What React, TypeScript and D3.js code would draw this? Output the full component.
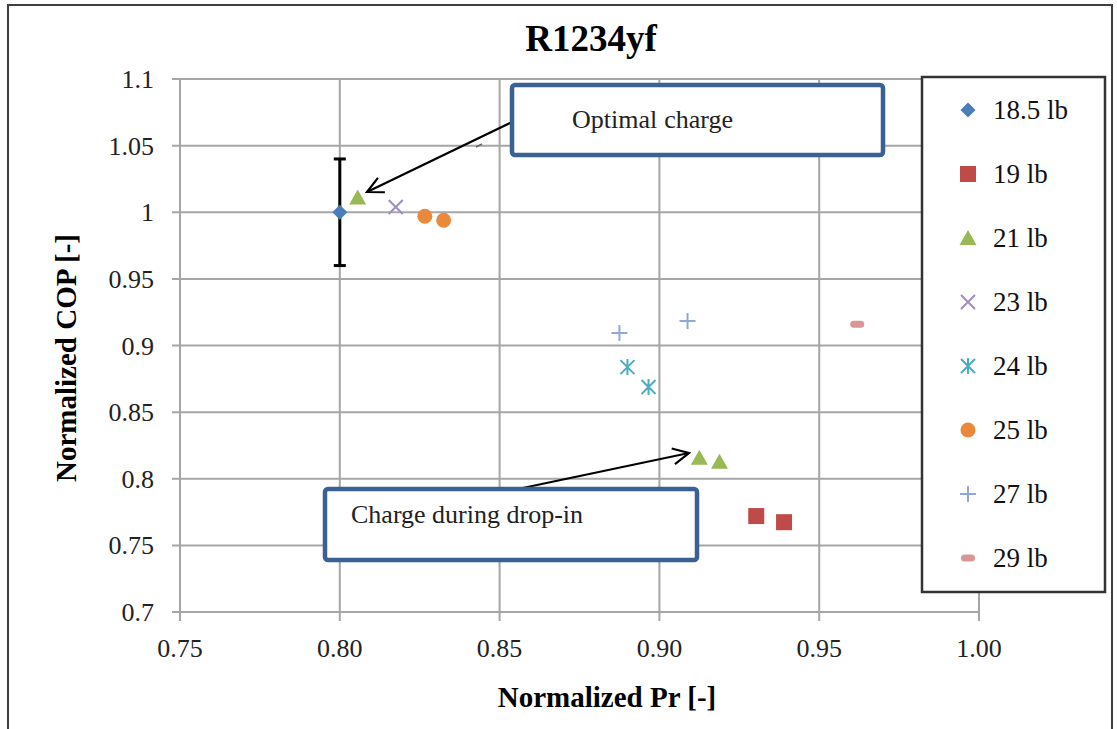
import React from "react";
import * as d3 from "d3";

const xTicks = [0.75, 0.8, 0.85, 0.9, 0.95, 1.0];
const yTicks = [0.7, 0.75, 0.8, 0.85, 0.9, 0.95, 1.0, 1.05, 1.1];
const yTickLabels = ["0.7", "0.75", "0.8", "0.85", "0.9", "0.95", "1", "1.05", "1.1"];

const seriesNames = ["18.5 lb", "19 lb", "21 lb", "23 lb", "24 lb", "25 lb", "27 lb", "29 lb"];
const seriesShapes = ["diamond", "square", "triangle", "x", "asterisk", "circle", "plus", "dash"];
const seriesColors = ["#4a7ebb", "#be4b48", "#98b954", "#a08cc0", "#4bacc6", "#e8893c", "#8fa8d8", "#d99694"];

const s185 = [[0.8, 1.0]];
const s19 = [[0.9303, 0.772], [0.939, 0.7674]];
const s21 = [[0.8056, 1.011], [0.9125, 0.8158], [0.9188, 0.8128]];
const s23 = [[0.8175, 1.004]];
const s24 = [[0.89, 0.8838], [0.8966, 0.8688]];
const s25 = [[0.8266, 0.997], [0.8325, 0.994]];
const s27 = [[0.8875, 0.9093], [0.9088, 0.9183]];
const s29 = [[0.9619, 0.916]];
const seriesData = [s185, s19, s21, s23, s24, s25, s27, s29];

const errorBar = { x: 0.8, low: 0.96, high: 1.04 };

const FONT = "'Liberation Serif', 'Times New Roman', serif";

function Marker({ shape, color, cx, cy }: { shape: string; color: string; cx: number; cy: number }) {
  switch (shape) {
    case "diamond":
      return <path d={`M${cx},${cy - 7.5}L${cx + 7.5},${cy}L${cx},${cy + 7.5}L${cx - 7.5},${cy}Z`} fill={color} />;
    case "square":
      return <rect x={cx - 8} y={cy - 8} width={16} height={16} fill={color} />;
    case "triangle":
      return <path d={`M${cx},${cy - 8}L${cx + 8.5},${cy + 7}L${cx - 8.5},${cy + 7}Z`} fill={color} />;
    case "circle":
      return <circle cx={cx} cy={cy} r={7.5} fill={color} />;
    case "x":
      return (
        <path d={`M${cx - 7},${cy - 7}L${cx + 7},${cy + 7}M${cx - 7},${cy + 7}L${cx + 7},${cy - 7}`} stroke={color} strokeWidth={2} />
      );
    case "plus":
      return <path d={`M${cx - 8},${cy}L${cx + 8},${cy}M${cx},${cy - 8}L${cx},${cy + 8}`} stroke={color} strokeWidth={2} />;
    case "asterisk":
      return (
        <path
          d={`M${cx - 7},${cy - 7}L${cx + 7},${cy + 7}M${cx - 7},${cy + 7}L${cx + 7},${cy - 7}M${cx},${cy - 8}L${cx},${cy + 8}`}
          stroke={color}
          strokeWidth={2}
        />
      );
    case "dash":
      return <rect x={cx - 7} y={cy - 3.5} width={14} height={7} rx={3.5} fill={color} />;
    default:
      return null;
  }
}

export default function App() {
  const W = 1117;
  const H = 729;
  const left = 180, right = 979, top = 79, bottom = 612;
  const x = d3.scaleLinear().domain([0.75, 1.0]).range([left, right]);
  const y = d3.scaleLinear().domain([0.7, 1.1]).range([bottom, top]);
  const grid = "#a6a6a6";

  const legX = 922, legY = 77, legW = 183, legH = 515;
  const legStart = 110, legStep = 64;

  return (
    <svg width={W} height={H} style={{ position: "absolute", left: 0, top: 0, background: "#fff" }} fontFamily={FONT}>
      <defs>
        <marker id="arr" viewBox="0 0 20 20" refX="18" refY="10" markerWidth="20" markerHeight="20" markerUnits="userSpaceOnUse" orient="auto">
          <path d="M2,2L18,10L2,18" fill="none" stroke="#000" strokeWidth={2.2} />
        </marker>
      </defs>
      <rect x={0} y={0} width={W} height={H} fill="#fff" />
      <rect x={8} y={5} width={1104} height={740} fill="none" stroke="#3f3f3f" strokeWidth={2} />

      {/* title */}
      <text x={591} y={51} textAnchor="middle" fontWeight="bold" fontSize={37}>R1234yf</text>

      {/* grid */}
      {yTicks.map((t) => (
        <line key={"gy" + t} x1={left - 8} x2={right} y1={y(t)} y2={y(t)} stroke={grid} strokeWidth={2} />
      ))}
      {xTicks.map((t) => (
        <line key={"gx" + t} x1={x(t)} x2={x(t)} y1={top} y2={bottom + 9} stroke={grid} strokeWidth={2} />
      ))}

      {/* tick labels */}
      {yTicks.map((t, i) => (
        <text key={"ly" + t} x={154} y={y(t) + 9} textAnchor="end" fontSize={26} fill="#222">{yTickLabels[i]}</text>
      ))}
      {xTicks.map((t) => (
        <text key={"lx" + t} x={x(t)} y={657} textAnchor="middle" fontSize={26} fill="#222">{d3.format(".2f")(t)}</text>
      ))}

      {/* axis titles */}
      <text x={607} y={707} textAnchor="middle" fontWeight="bold" fontSize={29}>Normalized Pr [-]</text>
      <text transform={`translate(76,358) rotate(-90)`} textAnchor="middle" fontWeight="bold" fontSize={29}>Normalized COP [-]</text>

      {/* error bar */}
      <g stroke="#000" strokeWidth={3}>
        <line x1={x(errorBar.x)} x2={x(errorBar.x)} y1={y(errorBar.high)} y2={y(errorBar.low)} />
        <line x1={x(errorBar.x) - 6} x2={x(errorBar.x) + 6} y1={y(errorBar.high)} y2={y(errorBar.high)} />
        <line x1={x(errorBar.x) - 6} x2={x(errorBar.x) + 6} y1={y(errorBar.low)} y2={y(errorBar.low)} />
      </g>

      {/* data */}
      {seriesData.map((data, si) =>
        data.map((p, pi) => (
          <Marker key={si + "-" + pi} shape={seriesShapes[si]} color={seriesColors[si]} cx={x(p[0])} cy={y(p[1])} />
        ))
      )}

      {/* annotations */}
      <line x1={512} y1={122} x2={367} y2={192} stroke="#000" strokeWidth={2.2} markerEnd="url(#arr)" />
      <line x1={476} y1={147} x2={482} y2={144} stroke="#666" strokeWidth={1.5} />
      <rect x={512} y={85} width={371} height={70} rx={3} fill="#fff" stroke="#3b6194" strokeWidth={4.5} />
      <text x={572} y={128} fontSize={26} fill="#222">
        <tspan>Optimal</tspan>
        <tspan dx={7}>charge</tspan>
      </text>

      <line x1={518} y1={489} x2={689} y2={453} stroke="#000" strokeWidth={2} markerEnd="url(#arr)" />
      <rect x={325} y={489} width={372} height={71} rx={3} fill="#fff" stroke="#3b6194" strokeWidth={4.5} />
      <text x={351} y={523} fontSize={26} fill="#222">Charge during drop-in</text>

      {/* legend */}
      <rect x={legX} y={legY} width={legW} height={legH} fill="#fff" stroke="#333" strokeWidth={2.5} />
      {seriesNames.map((n, i) => {
        const cy = legStart + i * legStep;
        return (
          <g key={n}>
            <Marker shape={seriesShapes[i]} color={seriesColors[i]} cx={968} cy={cy} />
            <text x={993} y={cy + 9} fontSize={27} fill="#111">{n}</text>
          </g>
        );
      })}
    </svg>
  );
}
